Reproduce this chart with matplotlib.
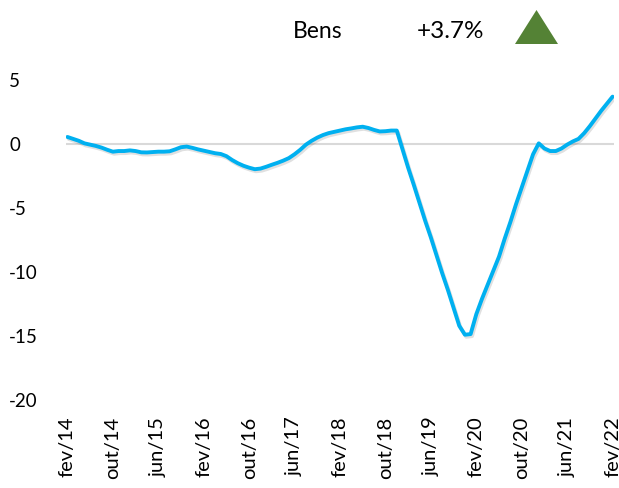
import matplotlib
matplotlib.use("Agg")
import matplotlib.pyplot as plt
import matplotlib.patheffects as pe
from matplotlib.patches import Polygon
import numpy as np

plt.rcParams['font.family'] = ['Lato', 'DejaVu Sans']

tick_labels = ["fev/14", "out/14", "jun/15", "fev/16", "out/16", "jun/17", "fev/18",
               "out/18", "jun/19", "fev/20", "out/20", "jun/21", "fev/22"]

values = [
    0.55, 0.40, 0.25, 0.05, -0.05, -0.15, -0.28, -0.45, -0.60, -0.55,   # 0-9
    -0.55, -0.50, -0.55, -0.65, -0.66, -0.63, -0.60, -0.60, -0.57, -0.42,  # 10-19
    -0.25, -0.20, -0.30, -0.42, -0.52, -0.62, -0.72, -0.78, -0.95, -1.25,  # 20-29
    -1.50, -1.70, -1.85, -1.97, -1.92, -1.78, -1.62, -1.47, -1.30, -1.10,  # 30-39
    -0.80, -0.45, -0.05, 0.25, 0.50, 0.70, 0.85, 0.95, 1.05, 1.15,         # 40-49
    1.22, 1.30, 1.35, 1.25, 1.10, 0.98, 1.00, 1.05, 1.05, -0.40,           # 50-59
    -1.85, -3.20, -4.60, -6.00, -7.30, -8.70, -10.10, -11.40, -12.80, -14.20,  # 60-69
    -14.90, -14.85, -13.30, -12.10, -11.00, -9.90, -8.80, -7.40, -6.10, -4.70,  # 70-79
    -3.40, -2.10, -0.80, 0.05, -0.35, -0.55, -0.55, -0.35, -0.05, 0.20,     # 80-89
    0.40, 0.85, 1.40, 2.00, 2.60, 3.15, 3.70                               # 90-96
]

series_name = "Bens"
change_text = "+3.7%"

fig = plt.figure(figsize=(6.19, 4.88), dpi=100)
ax = fig.add_axes([66 / 619, 88 / 488, (614 - 66) / 619, 320 / 488])

x = np.arange(len(values))
ax.axhline(0, color='#D9D9D9', lw=1.5, zorder=1)
ax.plot(x, values, color='#00B0F0', lw=2.8, solid_capstyle='round', zorder=3,
        path_effects=[pe.SimpleLineShadow(offset=(1.0, -1.5), shadow_color='black', alpha=0.12),
                      pe.Normal()])

ax.set_xlim(-0.25, 96.25)
ax.set_ylim(-20, 5)
ax.set_yticks([5, 0, -5, -10, -15, -20])
ax.set_yticklabels(["5", "0", "-5", "-10", "-15", "-20"], fontsize=13.5)
for lbl in ax.get_yticklabels():
    lbl.set_horizontalalignment('left')
ax.tick_params(axis='y', length=0, pad=41)

ax.set_xticks(np.arange(0, 97, 8))
ax.set_xticklabels(tick_labels, rotation=90, fontsize=14.5)
ax.tick_params(axis='x', length=0, pad=12)

for s in ax.spines.values():
    s.set_visible(False)

fig.text(318 / 619, 1 - 32 / 488, series_name, fontsize=16.5, ha='center', va='center')
fig.text(450 / 619, 1 - 32 / 488, change_text, fontsize=17.5, ha='center', va='center')
tri = Polygon([(515 / 619, 1 - 44 / 488), (558 / 619, 1 - 44 / 488), (536.5 / 619, 1 - 10 / 488)],
              closed=True, transform=fig.transFigure, facecolor='#548235', edgecolor='none')
fig.patches.append(tri)

fig.savefig("out.png", dpi=100)
